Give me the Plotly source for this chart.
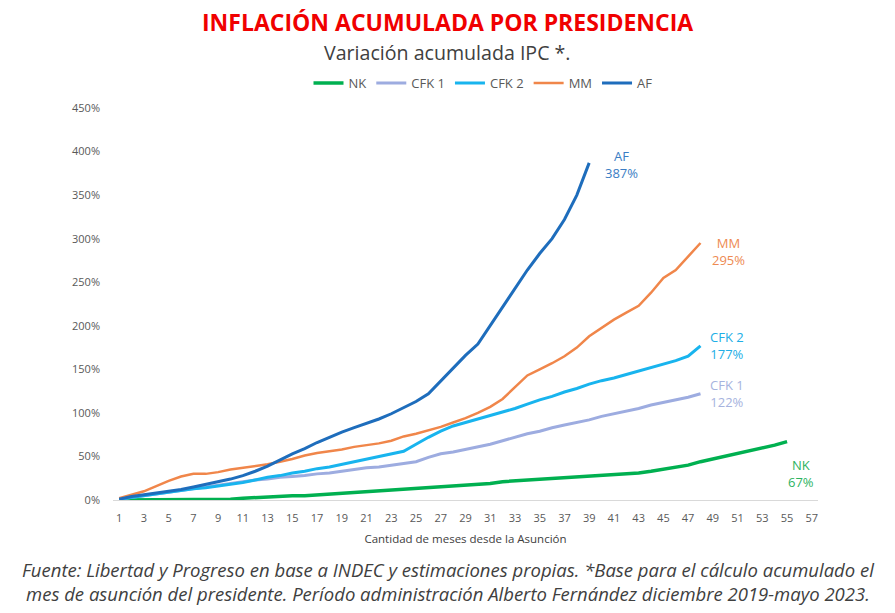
import plotly.graph_objects as go

# ---------------- data ----------------
months_all = list(range(1, 58))
tick_months = list(range(1, 58, 2))

nk = [0, 0, 0, 0, 0, 0, 0, 1, 1, 1, 2, 3, 3, 4, 5, 5, 6, 6, 7, 8,
      10, 11, 12, 12, 13, 14, 15, 16, 17, 18, 19, 21, 22, 22, 23, 24, 25, 26, 27, 28,
      29, 30, 31, 33, 35, 37, 40, 44, 47, 50, 54, 57, 60, 63, 67]
cfk1 = [1, 3, 5, 7, 9, 11, 13, 15, 17, 19, 21, 23, 24, 26, 27, 28, 30, 31, 33, 35,
        37, 38, 40, 42, 44, 49, 53, 55, 58, 61, 64, 68, 72, 76, 79, 83, 86, 89, 92, 96,
        99, 102, 105, 109, 112, 115, 118, 122]
cfk2 = [1, 3, 5, 7, 9, 11, 13, 14, 16, 18, 20, 23, 26, 28, 31, 33, 36, 38, 41, 44,
        47, 50, 53, 56, 64, 72, 79, 85, 89, 93, 97, 101, 105, 110, 115, 119, 124, 128, 133, 137,
        140, 144, 148, 152, 156, 160, 165, 177]
mm = [2, 6, 10, 16, 22, 27, 30, 30, 32, 35, 37, 39, 41, 44, 47, 51, 54, 56, 58, 61,
      63, 65, 68, 73, 76, 80, 84, 89, 94, 100, 107, 116, 130, 143, 150, 157, 165, 175, 188, 198,
      207, 215, 223, 238, 255, 264, 279, 295]
af = [1, 4, 6, 8, 10, 12, 15, 18, 21, 24, 28, 33, 39, 46, 53, 59, 66, 72, 78, 83,
      88, 93, 99, 106, 113, 122, 137, 152, 166, 179, 200, 222, 243, 264, 283, 300, 322, 350, 387]

series_names = ["NK", "CFK 1", "CFK 2", "MM", "AF"]
series_values = [nk, cfk1, cfk2, mm, af]
y_ticks = [0, 50, 100, 150, 200, 250, 300, 350, 400, 450]

# ---------------- styles ----------------
line_colors = {"NK": "#00B050", "CFK 1": "#9DACE0", "CFK 2": "#18B4EE",
               "MM": "#F0864A", "AF": "#1E6DBC"}
label_colors = {"NK": "#2DB35F", "CFK 1": "#A6B3DE", "CFK 2": "#20AEE6",
                "MM": "#EE8A52", "AF": "#3A7DC4"}
line_widths = {"NK": 3.5, "CFK 1": 3, "CFK 2": 3, "MM": 2.5, "AF": 3}
label_shift = {"NK": (14, -32), "CFK 1": (26, 0), "CFK 2": (26, 0),
               "MM": (28, -8), "AF": (32, -2)}

FONT = "Open Sans"
W, H = 895, 613
PLOT_LEFT, PLOT_RIGHT = 113, 818
PLOT_TOP, PLOT_BOTTOM = 108, 500


def paper_y(py):
    return (PLOT_BOTTOM - py) / (PLOT_BOTTOM - PLOT_TOP)


def paper_x(px):
    return (px - PLOT_LEFT) / (PLOT_RIGHT - PLOT_LEFT)


fig = go.Figure()
for name, vals in zip(series_names, series_values):
    xs = months_all[:len(vals)]
    fig.add_trace(go.Scatter(x=xs, y=vals, mode="lines", name=name,
                             line=dict(color=line_colors[name], width=line_widths[name])))
    dx, dy = label_shift[name]
    fig.add_annotation(x=xs[-1], y=vals[-1], xref="x", yref="y",
                       text=f"{name}<br>{vals[-1]}%", showarrow=False,
                       xshift=dx, yshift=dy, align="center",
                       font=dict(family=FONT, size=13, color=label_colors[name]))

fig.update_layout(
    width=W, height=H,
    margin=dict(l=PLOT_LEFT, r=W - PLOT_RIGHT, t=PLOT_TOP, b=H - PLOT_BOTTOM, autoexpand=False),
    paper_bgcolor="white", plot_bgcolor="white",
    showlegend=True,
    legend=dict(orientation="h", x=paper_x(483), xanchor="center", xref="paper",
                y=paper_y(83), yanchor="middle", yref="paper",
                font=dict(family=FONT, size=13, color="#595959"),
                traceorder="normal", bgcolor="rgba(0,0,0,0)"),
    font=dict(family=FONT, color="#595959"),
)

fig.update_xaxes(range=[0.5, 57.5], tickmode="array", tickvals=tick_months,
                 ticktext=[str(m) for m in tick_months],
                 showgrid=False, zeroline=False, showline=True, linecolor="#D9D9D9",
                 linewidth=1, ticks="", ticklabelstandoff=8,
                 tickfont=dict(family=FONT, size=11, color="#595959"),
                 title=dict(text="Cantidad de meses desde la Asunción",
                            font=dict(family=FONT, size=11.5, color="#404040"), standoff=10))
fig.update_yaxes(range=[0, 450], tickmode="array", tickvals=y_ticks,
                 ticktext=[f"{v}%" for v in y_ticks],
                 showgrid=False, zeroline=False, showline=False, ticks="",
                 ticklabelstandoff=12,
                 tickfont=dict(family=FONT, size=11, color="#595959"))

# titles (centered on the page)
page_center_x = paper_x(W / 2)
fig.add_annotation(xref="paper", yref="paper", x=page_center_x, y=paper_y(22), yanchor="middle",
                   text="<b>INFLACIÓN ACUMULADA POR PRESIDENCIA</b>", showarrow=False,
                   font=dict(family=FONT, size=23, color="#F00000"))
fig.add_annotation(xref="paper", yref="paper", x=page_center_x, y=paper_y(52), yanchor="middle",
                   text="Variación acumulada IPC *.", showarrow=False,
                   font=dict(family=FONT, size=19.6, color="#404040"))
fig.add_annotation(xref="paper", yref="paper", x=page_center_x, y=paper_y(581), yanchor="middle",
                   text="<i>Fuente: Libertad y Progreso en base a INDEC y estimaciones propias. *Base para el cálculo acumulado el<br>"
                        "mes de asunción del presidente. Período administración Alberto Fernández diciembre 2019-mayo 2023.</i>",
                   showarrow=False, align="center",
                   font=dict(family=FONT, size=18.5, color="#404040"))

fig.write_html("out.html", config={"displayModeBar": False},
               post_script="document.body.style.margin='0';")
